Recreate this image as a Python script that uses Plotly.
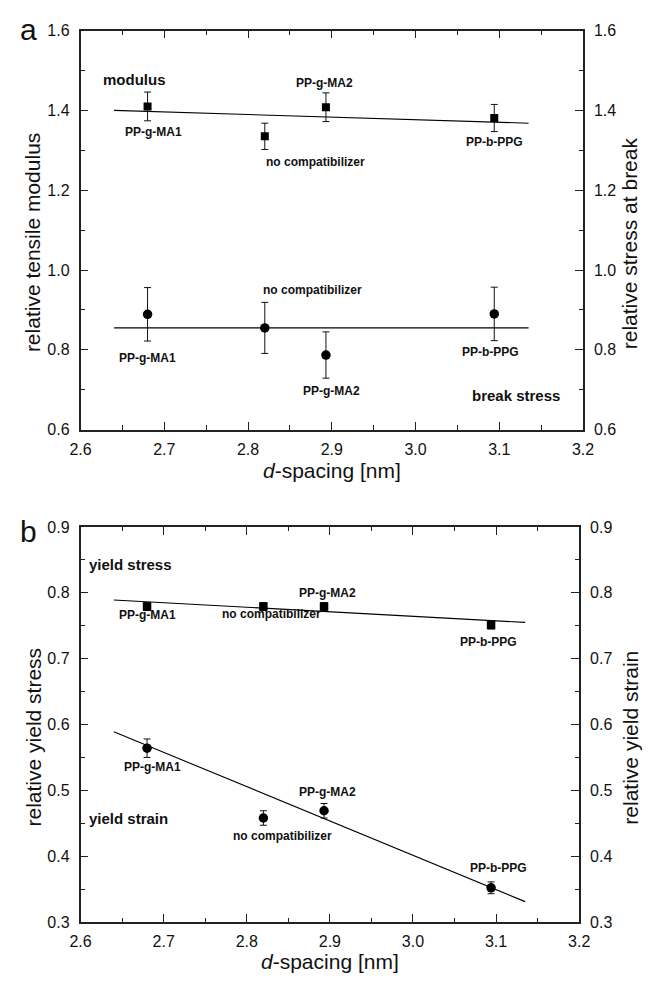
import plotly.graph_objects as go

W, H = 652, 991

# ---------------- data ----------------
samples = ["PP-g-MA1", "no compatibilizer", "PP-g-MA2", "PP-b-PPG"]
d_spacing = [2.68, 2.82, 2.893, 3.094]

# panel a
modulus = [1.410, 1.335, 1.408, 1.381]
modulus_err = [0.036, 0.033, 0.036, 0.034]
break_stress = [0.889, 0.855, 0.787, 0.890]
break_stress_err = [0.067, 0.064, 0.058, 0.067]
fit_x = [2.64, 3.135]
modulus_fit = [1.400, 1.368]
break_fit = [0.855, 0.855]

# panel b
yield_stress = [0.779, 0.779, 0.779, 0.751]
yield_stress_err = [0.006, 0.006, 0.006, 0.006]
yield_strain = [0.564, 0.458, 0.469, 0.352]
yield_strain_err = [0.014, 0.011, 0.011, 0.009]
ys_fit = [0.789, 0.755]
yst_fit = [0.589, 0.331]

# label positions (data coordinates)
labels_a_mod = [(2.687, 1.345), (2.881, 1.270), (2.891, 1.469), (3.094, 1.320)]
labels_a_brk = [(2.680, 0.780), (2.877, 0.949), (2.900, 0.698), (3.089, 0.795)]
labels_b_ys = [(2.680, 0.766), (2.830, 0.768), (2.897, 0.800), (3.091, 0.725)]
labels_b_yst = [(2.686, 0.536), (2.843, 0.430), (2.897, 0.497), (3.103, 0.382)]

FONT = "Liberation Sans, Arial, sans-serif"
AX = "#222222"

fig = go.Figure()

def err(e):
    return dict(type="data", array=e, visible=True, color="#111111", thickness=1, width=3.5)

# Panel a
fig.add_trace(go.Scatter(x=fit_x, y=modulus_fit, mode="lines", line=dict(color="black", width=1.1),
                         xaxis="x", yaxis="y", showlegend=False))
fig.add_trace(go.Scatter(x=d_spacing, y=modulus, mode="markers", error_y=err(modulus_err),
                         marker=dict(symbol="square", size=8, color="black"),
                         xaxis="x", yaxis="y", showlegend=False))
fig.add_trace(go.Scatter(x=fit_x, y=break_fit, mode="lines", line=dict(color="black", width=1.1),
                         xaxis="x", yaxis="y2", showlegend=False))
fig.add_trace(go.Scatter(x=d_spacing, y=break_stress, mode="markers", error_y=err(break_stress_err),
                         marker=dict(symbol="circle", size=9.5, color="black"),
                         xaxis="x", yaxis="y2", showlegend=False))

# Panel b
fig.add_trace(go.Scatter(x=fit_x, y=ys_fit, mode="lines", line=dict(color="black", width=1.1),
                         xaxis="x2", yaxis="y3", showlegend=False))
fig.add_trace(go.Scatter(x=d_spacing, y=yield_stress, mode="markers", error_y=err(yield_stress_err),
                         marker=dict(symbol="square", size=8.5, color="black"),
                         xaxis="x2", yaxis="y3", showlegend=False))
fig.add_trace(go.Scatter(x=fit_x, y=yst_fit, mode="lines", line=dict(color="black", width=1.1),
                         xaxis="x2", yaxis="y4", showlegend=False))
fig.add_trace(go.Scatter(x=d_spacing, y=yield_strain, mode="markers", error_y=err(yield_strain_err),
                         marker=dict(symbol="circle", size=9.5, color="black"),
                         xaxis="x2", yaxis="y4", showlegend=False))

tickfont = dict(family=FONT, size=16, color="#111111")

def xax(domain, anchor):
    return dict(domain=domain, anchor=anchor, range=[2.6, 3.2], dtick=0.1, tick0=2.6,
                tickformat=".1f", showline=True, linecolor=AX, linewidth=1.5, mirror="ticks",
                ticks="inside", ticklen=8, tickwidth=1.3, tickcolor=AX,
                minor=dict(ticks="inside", ticklen=4.5, dtick=0.05, tickwidth=1.3, tickcolor=AX),
                showgrid=False, zeroline=False, tickfont=tickfont, ticklabelstandoff=4)

def yax(domain, anchor, rng, dtick, side, overlay=None):
    d = dict(domain=domain, anchor=anchor, range=rng, dtick=dtick, tickformat=".1f", side=side,
             showline=True, linecolor=AX, linewidth=1.5, ticks="inside", ticklen=8, tickwidth=1.3,
             tickcolor=AX, minor=dict(ticks="inside", ticklen=4.5, dtick=dtick / 2, tickwidth=1.3, tickcolor=AX),
             showgrid=False, zeroline=False, tickfont=tickfont, ticklabelstandoff=6)
    if overlay:
        d["overlaying"] = overlay
    return d

xa = [72 / W, 592 / W]
xb = [72 / W, 588 / W]
ya = [1 - 429 / H, 1 - 23 / H]
yb = [1 - 930 / H, 1 - 528 / H]

fig.update_layout(
    width=W, height=H, margin=dict(l=0, r=0, t=0, b=0),
    paper_bgcolor="white", plot_bgcolor="white",
    xaxis=xax(xa, "y"),
    yaxis=yax(ya, "x", [0.6, 1.6], 0.2, "left"),
    yaxis2=yax(ya, "x", [0.6, 1.6], 0.2, "right", "y"),
    xaxis2=xax(xb, "y3"),
    yaxis3=yax(yb, "x2", [0.3, 0.9], 0.1, "left"),
    yaxis4=yax(yb, "x2", [0.3, 0.9], 0.1, "right", "y3"),
    font=dict(family=FONT, color="black"),
)

ann = []
def lab(text, x, y, xref, yref, size=12, bold=True):
    t = f"<b>{text}</b>" if bold else text
    ann.append(dict(text=t, x=x, y=y, xref=xref, yref=yref, showarrow=False,
                    font=dict(family=FONT, size=size, color="#111111"),
                    xanchor="center", yanchor="middle"))

for s, (x, y) in zip(samples, labels_a_mod):
    lab(s, x, y, "x", "y")
for s, (x, y) in zip(samples, labels_a_brk):
    lab(s, x, y, "x", "y2")
for s, (x, y) in zip(samples, labels_b_ys):
    lab(s, x, y, "x2", "y3")
for s, (x, y) in zip(samples, labels_b_yst):
    lab(s, x, y, "x2", "y4")

lab("modulus", 2.664, 1.477, "x", "y", size=15)
lab("break stress", 3.120, 0.685, "x", "y2", size=15)
lab("yield stress", 2.660, 0.843, "x2", "y3", size=15)
lab("yield strain", 2.658, 0.457, "x2", "y4", size=15)

def ptxt(text, px, py, size, angle=0):
    ann.append(dict(text=text, x=px / W, y=1 - py / H, xref="paper", yref="paper", showarrow=False,
                    textangle=angle, font=dict(family=FONT, size=size, color="#111111"),
                    xanchor="center", yanchor="middle"))

ptxt("a", 18, 22, 30)
ptxt("b", 18, 533, 30)
ptxt("<i>d</i>-spacing [nm]", 332, 471, 21)
ptxt("<i>d</i>-spacing [nm]", 330, 970, 21)
ptxt("relative tensile modulus", 23, 239, 21, -90)
ptxt("relative stress at break", 641, 239, 21, -90)
ptxt("relative yield stress", 23, 742, 21, -90)
ptxt("relative yield strain", 641, 742, 21, -90)

fig.update_layout(annotations=ann)

fig.write_html("out.html")
